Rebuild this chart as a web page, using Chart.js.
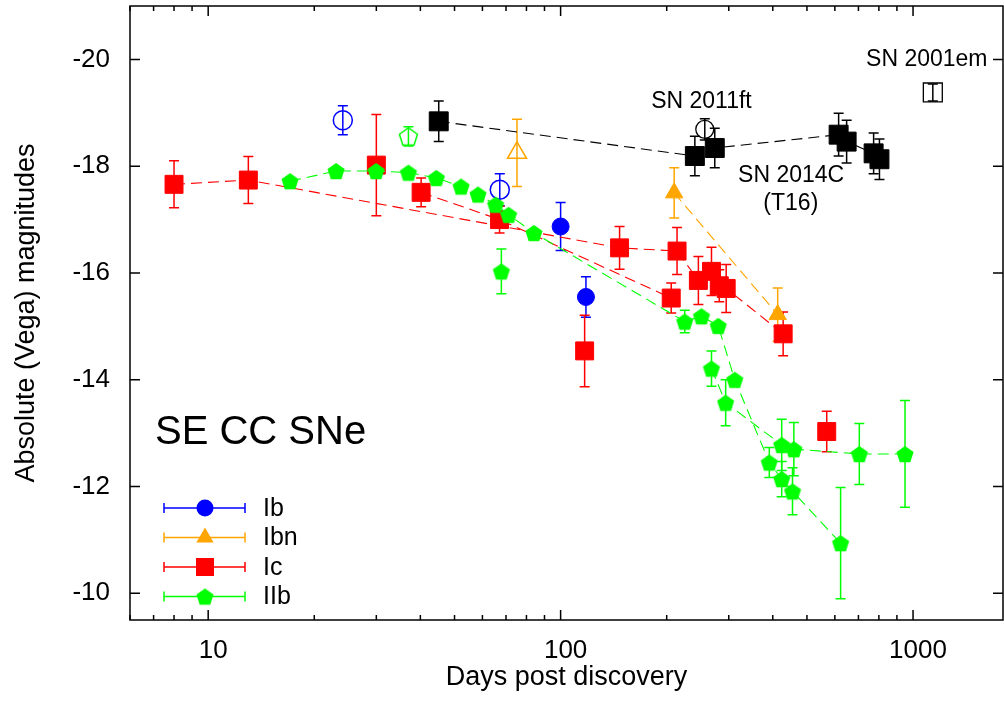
<!DOCTYPE html>
<html>
<head>
<meta charset="utf-8">
<script src="https://cdn.jsdelivr.net/npm/chart.js@4.4.1/dist/chart.umd.min.js"></script>
<style>
  body { margin: 0; background: #fff; }
  #wrap { width: 1004px; height: 712px; }
</style>
</head>
<body>
<div id="wrap"><canvas id="snChart" width="1004" height="712"></canvas></div>
<script>
// ---- data (days post discovery, absolute magnitude, error) ----
// Ib
const ibDays = [100, 118];
const ibMag = [-16.87, -15.55];
const ibErr = [0.45, 0.38];
const ibOpenDays = [24.1, 67.2];
const ibOpenMag = [-18.86, -17.56];
const ibOpenErr = [0.27, 0.3];

// Ibn
const ibnDays = [210, 413];
const ibnMag = [-17.5, -15.22];
const ibnErr = [0.47, 0.5];
const ibnOpenDays = [75.2];
const ibnOpenMag = [-18.25];
const ibnOpenErr = [0.63];

// Ic
const icADays = [8.0, 13.0, 147, 214, 246, 268, 282, 295, 428];
const icAMag = [-17.66, -17.74, -16.47, -16.41, -15.86, -16.03, -15.76, -15.71, -14.86];
const icAErr = [0.44, 0.44, 0.4, 0.44, 0.45, 0.45, 0.3, 0.45, 0.41];
const icBDays = [40.2, 67.1, 206];
const icBMag = [-17.51, -17.0, -15.53];
const icBErr = [0.27, 0.25, 0.28];
const icSoloDays = [30, 117, 569];
const icSoloMag = [-18.02, -14.54, -13.03];
const icSoloErr = [0.95, 0.67, 0.38];

// IIb
const iibADays = [17.07, 23.06, 29.95, 37.0, 44.4, 52.2, 58.3, 65.4, 71.2, 84.0, 225, 251, 280, 312, 391, 424, 455, 623];
const iibAMag = [-17.72, -17.91, -17.91, -17.88, -17.78, -17.62, -17.47, -17.28, -17.09, -16.75, -15.09, -15.19, -15.01, -14.0, -12.45, -12.14, -11.91, -10.94];
const iibAErr = [0, 0, 0, 0, 0, 0, 0, 0, 0, 0, 0.21, 0, 0, 0, 0.28, 0.33, 0.44, 1.04];
const iibBDays = [268, 294, 424, 459, 704, 949];
const iibBMag = [-14.21, -13.57, -12.78, -12.70, -12.61, -12.61];
const iibBErr = [0.33, 0.43, 0.48, 0.5, 0.57, 1.0];
const iibSoloDays = [67.9];
const iibSoloMag = [-16.03];
const iibSoloErr = [0.42];
const iibOpenDays = [37.0];
const iibOpenMag = [-18.56];
const iibOpenErr = [0.18];

// SN 2014C (T16), SN 2011ft, SN 2001em
const sn14cDays = [45.1, 240.4, 273.8, 615, 648, 773, 803];
const sn14cMag = [-18.84, -18.19, -18.34, -18.59, -18.46, -18.24, -18.13];
const sn14cErr = [0.38, 0.37, 0.37, 0.4, 0.4, 0.38, 0.38];
const sn11ftDays = [256.5];
const sn11ftMag = [-18.69];
const sn11ftErr = [0.2];
const sn01emDays = [1138];
const sn01emMag = [-19.38];
const sn01emErr = [0.16];

const xTickValues = [10, 100, 1000];
const yTickValues = [-20, -18, -16, -14, -12, -10];

const notes = [
  { text: 'SN 2011ft', day: 251, mag: -19.2 },
  { text: 'SN 2014C', day: 451, mag: -17.82 },
  { text: '(T16)', day: 450, mag: -17.3 },
  { text: 'SN 2001em', day: 1094, mag: -19.99 }
];

const BLUE = '#0000ff', ORANGE = '#ffa500', RED = '#ff0000', GREEN = '#00ff00', BLACK = '#000000';
const FONT = "'Liberation Sans', Arial, Helvetica, sans-serif";

function pentagon(color, r, filled) {
  const size = Math.ceil(2 * r + 4);
  const c = document.createElement('canvas');
  c.width = size; c.height = size;
  const g = c.getContext('2d');
  g.beginPath();
  for (let k = 0; k < 5; k++) {
    const a = -Math.PI / 2 + k * 2 * Math.PI / 5;
    const px = size / 2 + r * Math.cos(a), py = size / 2 + r * Math.sin(a) + r * 0.1;
    k ? g.lineTo(px, py) : g.moveTo(px, py);
  }
  g.closePath();
  if (filled) { g.fillStyle = color; g.fill(); }
  else { g.strokeStyle = color; g.lineWidth = 1.5; g.stroke(); }
  return c;
}
const greenPent = pentagon(GREEN, 9, true);
const greenPentOpen = pentagon(GREEN, 9.5, false);

function series(days, mags, errs, color, opts) {
  return Object.assign({
    data: days.map((d, i) => ({ x: d, y: mags[i] })),
    err: errs,
    errColor: color,
    showLine: false,
    borderColor: color,
    borderWidth: 1.1,
    borderDash: [11, 6],
    pointBackgroundColor: color,
    pointBorderColor: color,
    pointBorderWidth: 1
  }, opts);
}

const datasets = [
  series(ibDays, ibMag, ibErr, BLUE, { pointStyle: 'circle', pointRadius: 8.5, order: 5 }),
  series(ibOpenDays, ibOpenMag, ibOpenErr, BLUE, { pointStyle: 'circle', pointRadius: 9.5, pointBackgroundColor: 'rgba(0,0,0,0)', pointBorderWidth: 1.5, order: 5 }),
  series(ibnDays, ibnMag, ibnErr, ORANGE, { showLine: true, pointStyle: 'triangle', pointRadius: 10, order: 4 }),
  series(ibnOpenDays, ibnOpenMag, ibnOpenErr, ORANGE, { pointStyle: 'triangle', pointRadius: 11, pointBackgroundColor: 'rgba(0,0,0,0)', pointBorderWidth: 1.5, order: 4 }),
  series(icADays, icAMag, icAErr, RED, { showLine: true, pointStyle: 'rect', pointRadius: 12.7, order: 3 }),
  series(icBDays, icBMag, icBErr, RED, { showLine: true, pointStyle: 'rect', pointRadius: 12.7, order: 3 }),
  series(icSoloDays, icSoloMag, icSoloErr, RED, { pointStyle: 'rect', pointRadius: 12.7, order: 3 }),
  series(iibADays, iibAMag, iibAErr, GREEN, { showLine: true, pointStyle: greenPent, order: 2 }),
  series(iibBDays, iibBMag, iibBErr, GREEN, { showLine: true, pointStyle: greenPent, order: 2 }),
  series(iibSoloDays, iibSoloMag, iibSoloErr, GREEN, { pointStyle: greenPent, order: 2 }),
  series(iibOpenDays, iibOpenMag, iibOpenErr, GREEN, { pointStyle: greenPentOpen, order: 2 }),
  series(sn14cDays, sn14cMag, sn14cErr, BLACK, { showLine: true, pointStyle: 'rect', pointRadius: 13.4, order: 1 }),
  series(sn11ftDays, sn11ftMag, sn11ftErr, BLACK, { pointStyle: 'circle', pointRadius: 9, pointBackgroundColor: 'rgba(0,0,0,0)', pointBorderWidth: 1.3, order: 1 }),
  series(sn01emDays, sn01emMag, sn01emErr, BLACK, { pointStyle: 'rect', pointRadius: 13.4, pointBackgroundColor: 'rgba(0,0,0,0)', pointBorderWidth: 1.3, order: 1 })
];

const legendItems = [
  { label: 'Ib', color: BLUE, style: 'circle' },
  { label: 'Ibn', color: ORANGE, style: 'triangle' },
  { label: 'Ic', color: RED, style: 'rect' },
  { label: 'IIb', color: GREEN, style: greenPent }
];

function drawMarker(ctx, style, x, y, color) {
  ctx.fillStyle = color;
  ctx.beginPath();
  if (style === 'circle') {
    ctx.arc(x, y, 8.5, 0, Math.PI * 2);
  } else if (style === 'triangle') {
    ctx.moveTo(x, y - 10);
    ctx.lineTo(x + 8.66, y + 5);
    ctx.lineTo(x - 8.66, y + 5);
    ctx.closePath();
  } else if (style === 'rect') {
    ctx.rect(x - 9, y - 9, 18, 18);
  } else {
    ctx.drawImage(style, x - style.width / 2, y - style.height / 2);
    return;
  }
  ctx.fill();
}

const errorBars = {
  id: 'errorBars',
  beforeDatasetsDraw(chart) {
    const { ctx, scales: { x, y } } = chart;
    chart.data.datasets.forEach(ds => {
      ctx.save();
      ctx.strokeStyle = ds.errColor;
      ctx.lineWidth = 1.5;
      ds.data.forEach((p, i) => {
        const e = ds.err[i];
        if (!e) return;
        const px = x.getPixelForValue(p.x);
        const top = y.getPixelForValue(p.y - e), bot = y.getPixelForValue(p.y + e);
        ctx.beginPath();
        ctx.moveTo(px, top); ctx.lineTo(px, bot);
        ctx.moveTo(px - 5, top); ctx.lineTo(px + 5, top);
        ctx.moveTo(px - 5, bot); ctx.lineTo(px + 5, bot);
        ctx.stroke();
      });
      ctx.restore();
    });
  }
};

const frameAndText = {
  id: 'frameAndText',
  afterDraw(chart) {
    const { ctx, chartArea: a, scales: { x, y } } = chart;
    ctx.save();
    ctx.strokeStyle = '#000';
    ctx.lineWidth = 1.5;
    ctx.strokeRect(a.left, a.top, a.right - a.left, a.bottom - a.top);
    ctx.beginPath();
    // x ticks (major + minor), bottom and top, pointing inward
    for (let dec = 1; dec <= 1000; dec *= 10) {
      for (let m = 1; m <= 9; m++) {
        const v = m * dec;
        if (v < x.min || v > x.max) continue;
        const px = x.getPixelForValue(v);
        const len = m === 1 ? 10 : 5;
        ctx.moveTo(px, a.bottom); ctx.lineTo(px, a.bottom - len);
        ctx.moveTo(px, a.top); ctx.lineTo(px, a.top + len);
      }
    }
    yTickValues.forEach(v => {
      const py = y.getPixelForValue(v);
      ctx.moveTo(a.left, py); ctx.lineTo(a.left + 10, py);
      ctx.moveTo(a.right, py); ctx.lineTo(a.right - 10, py);
    });
    ctx.stroke();

    // annotations
    ctx.fillStyle = '#000';
    ctx.textAlign = 'center';
    ctx.textBaseline = 'middle';
    ctx.font = '23px ' + FONT;
    notes.forEach(n => ctx.fillText(n.text, x.getPixelForValue(n.day), y.getPixelForValue(n.mag)));

    ctx.textAlign = 'left';
    ctx.font = '40px ' + FONT;
    ctx.fillText('SE CC SNe', a.left + 25, a.top + 427);

    // legend
    ctx.font = '25px ' + FONT;
    legendItems.forEach((it, i) => {
      const ly = a.top + 502 + i * 29.5;
      const x0 = a.left + 34, x1 = a.left + 115, xm = a.left + 75;
      ctx.strokeStyle = it.color;
      ctx.lineWidth = 1.5;
      ctx.beginPath();
      ctx.moveTo(x0, ly); ctx.lineTo(x1, ly);
      ctx.moveTo(x0, ly - 5); ctx.lineTo(x0, ly + 5);
      ctx.moveTo(x1, ly - 5); ctx.lineTo(x1, ly + 5);
      ctx.stroke();
      drawMarker(ctx, it.style, xm, ly, it.color);
      ctx.fillStyle = '#000';
      ctx.fillText(it.label, a.left + 133, ly + 1);
    });
    ctx.restore();
  }
};

const tickFont = { family: FONT, size: 26 };
const titleFont = { family: FONT, size: 27 };

// drop the automatic label overhang padding so the plot frame fills the canvas
function noOverhang(s) {
  s.paddingTop = 0; s.paddingBottom = 0; s.paddingLeft = 0; s.paddingRight = 0;
}

new Chart(document.getElementById('snChart'), {
  type: 'scatter',
  data: { datasets },
  options: {
    responsive: false,
    animation: false,
    layout: { autoPadding: false, padding: { top: 6, right: 1, left: 0, bottom: 0 } },
    plugins: { legend: { display: false }, tooltip: { enabled: false } },
    scales: {
      x: {
        type: 'logarithmic',
        min: 6,
        max: 1800,
        grid: { display: false, drawTicks: false },
        border: { display: false },
        afterBuildTicks: s => { s.ticks = xTickValues.map(v => ({ value: v })); },
        ticks: { color: '#000', font: tickFont, padding: 15, labelOffset: 5, maxRotation: 0, autoSkip: false, callback: v => String(v) },
        title: { display: true, text: 'Days post discovery', color: '#000', font: titleFont, padding: { top: 0, bottom: 18 } },
        afterFit: s => { s.height = 92; noOverhang(s); }
      },
      y: {
        min: -21,
        max: -9.5,
        reverse: true,
        grid: { display: false, drawTicks: false },
        border: { display: false },
        afterBuildTicks: s => { s.ticks = yTickValues.map(v => ({ value: v })); },
        ticks: { color: '#000', font: tickFont, padding: 20, autoSkip: false, callback: v => String(v) },
        title: { display: true, text: 'Absolute (Vega) magnitudes', color: '#000', font: titleFont, padding: { top: 10, bottom: 0 } },
        afterFit: s => { s.width = 130; noOverhang(s); }
      }
    }
  },
  plugins: [errorBars, frameAndText]
});
</script>
</body>
</html>
